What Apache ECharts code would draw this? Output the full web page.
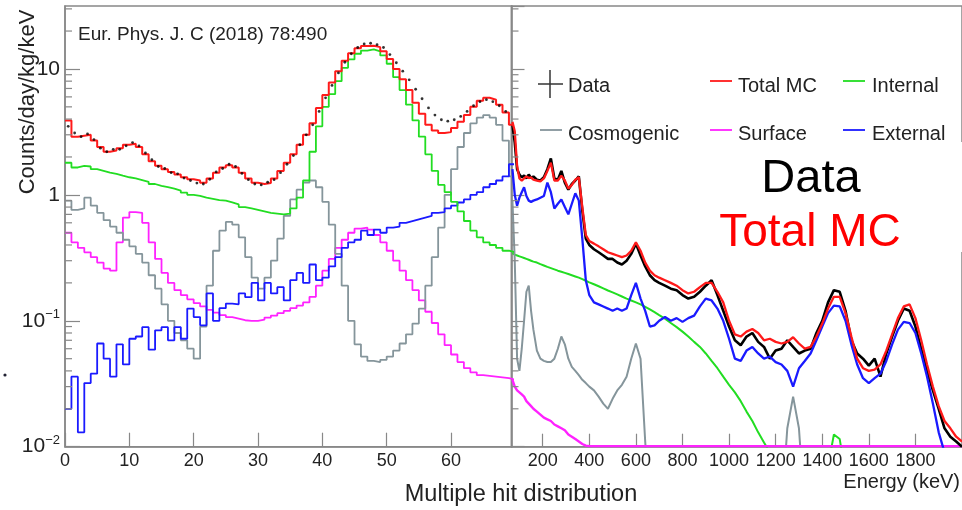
<!DOCTYPE html>
<html><head><meta charset="utf-8">
<script src="https://cdn.jsdelivr.net/npm/echarts@6/dist/echarts.min.js"></script>
<style>html,body{margin:0;padding:0;background:#fff}#c{width:962px;height:510px}</style>
</head><body><div id="c"></div>
<script>
// ---------- Left panel: multiple hit distribution (bins of width 1, 0..69) ----------
const hitTicks = [0, 10, 20, 30, 40, 50, 60];
const leftTotalMC = [3.9,2.9,2.95,3.0,2.7,2.4,2.2,2.25,2.35,2.5, 2.55,2.4,2.1,1.85,1.7,1.6,1.52,1.45,1.38,1.33, 1.3,1.25,1.35,1.5,1.65,1.72,1.65,1.5,1.35,1.25, 1.22,1.24,1.35,1.55,1.8,2.1,2.5,3.0,3.7,4.9, 6.2,7.8,9.6,11.6,13.3,14.6,15.2,15.3,14.9,13.8, 12.0,10.0,8.3,6.8,5.4,4.4,3.6,3.25,3.1,3.15, 3.4,3.8,4.3,5.0,5.6,5.9,5.7,5.2,4.5,3.6];
const leftData = [3.5,3.1,2.9,3.05,2.75,2.35,2.2,2.3,2.3,2.45, 2.6,2.45,2.15,1.9,1.68,1.62,1.5,1.47,1.36,1.3, 1.24,1.22,1.33,1.52,1.62,1.75,1.68,1.48,1.32,1.22, 1.2,1.26,1.32,1.5,1.75,2.05,2.5,3.0,3.6,4.6, 5.9,7.4,9.3,11.3,13.2,14.8,15.8,16.0,15.6,14.8, 13.0,11.2,9.6,8.2,6.9,5.8,4.9,4.3,3.95,3.85, 3.95,4.2,4.6,5.1,5.5,5.7,5.5,5.1,4.6,4.0];
const leftInternal = [1.8,1.65,1.7,1.68,1.6,1.55,1.5,1.47,1.42,1.38, 1.35,1.31,1.27,1.22,1.18,1.15,1.12,1.08,1.04,1.0, 0.98,0.95,0.93,0.91,0.9,0.87,0.84,0.8,0.78,0.76, 0.74,0.72,0.71,0.7,0.71,0.78,0.95,1.3,2.2,3.5, 5.0,6.3,8.0,10.2,11.9,13.2,14.0,14.3,13.8,12.8, 11.0,8.6,6.8,5.2,3.9,2.9,2.1,1.55,1.2,1.05, 0.88,0.74,0.62,0.52,0.46,0.42,0.4,0.38,0.36,0.35];
const leftCosmogenic = [0.9,0.76,0.78,0.95,0.82,0.72,0.63,0.56,0.5,0.44, 0.39,0.34,0.29,0.23,0.18,0.135,0.1,0.08,0.07,0.06, 0.05,0.09,0.19,0.36,0.52,0.61,0.58,0.46,0.32,0.22, 0.18,0.22,0.3,0.45,0.68,0.92,1.1,1.25,1.3,1.15, 0.88,0.58,0.34,0.19,0.1,0.065,0.052,0.048,0.047,0.049, 0.052,0.058,0.066,0.078,0.095,0.125,0.19,0.32,0.55,1.0, 1.6,2.4,3.1,3.7,4.1,4.3,4.1,3.6,2.7,1.4];
const leftSurface = [0.5,0.42,0.38,0.35,0.32,0.29,0.26,0.25,0.42,0.66, 0.73,0.72,0.6,0.42,0.31,0.24,0.2,0.175,0.16,0.148, 0.138,0.13,0.122,0.116,0.111,0.107,0.104,0.101,0.1,0.1, 0.102,0.106,0.11,0.115,0.12,0.126,0.132,0.14,0.155,0.19, 0.25,0.31,0.38,0.44,0.5,0.54,0.55,0.53,0.48,0.42, 0.36,0.3,0.25,0.21,0.175,0.145,0.118,0.096,0.078,0.064, 0.054,0.047,0.042,0.039,0.037,0.0365,0.036,0.0355,0.035,0.034];
const leftExternal = [0.02,0.036,0.013,0.032,0.038,0.066,0.05,0.036,0.065,0.045, 0.072,0.075,0.089,0.059,0.084,0.089,0.07,0.089,0.072,0.125, 0.107,0.092,0.165,0.1,0.126,0.137,0.135,0.165,0.154,0.2, 0.145,0.2,0.165,0.185,0.145,0.21,0.24,0.2,0.28,0.21, 0.22,0.27,0.32,0.38,0.42,0.44,0.52,0.48,0.53,0.5, 0.55,0.56,0.6,0.62,0.64,0.66,0.68,0.72,0.73,0.78, 0.82,0.87,0.92,1.0,1.05,1.15,1.22,1.3,1.4,1.75];

// ---------- Right panel: energy spectrum (keV) ----------
const energyTicks = [200, 400, 600, 800, 1000, 1200, 1400, 1600, 1800];
const energyKeV = [70,80,90,100,110,120,130,140,150,160,
  175,190,205,220,235,250,265,280,295,310,325,340,355,370,385,400,
  420,440,460,480,500,520,540,560,580,600,620,640,660,680,700,
  725,750,775,800,825,850,875,900,925,950,975,1000,
  1025,1050,1075,1100,1125,1150,1175,1200,1225,1250,1275,1300,
  1325,1350,1375,1400,1425,1450,1475,1500,1525,1550,1575,1600,
  1625,1650,1675,1700,1725,1750,1775,1800,1825,1850,1875,1900,
  1925,1950,1975,2000];
const rightTotalMC = [3.8,3.2,1.7,1.35,1.3,1.35,1.4,1.36,1.38,1.32,
  1.3,1.28,1.35,1.55,1.8,1.3,1.3,1.42,1.3,1.12,1.2,1.32,1.38,0.8,0.48,0.43,
  0.41,0.39,0.37,0.35,0.34,0.33,0.32,0.33,0.36,0.42,0.36,0.29,0.25,0.23,0.22,
  0.21,0.2,0.19,0.175,0.165,0.17,0.185,0.2,0.2,0.17,0.14,0.1,
  0.078,0.075,0.082,0.086,0.08,0.07,0.072,0.068,0.066,0.068,0.074,0.066,
  0.06,0.062,0.075,0.095,0.125,0.155,0.155,0.115,0.075,0.05,0.042,0.04,
  0.041,0.045,0.058,0.078,0.105,0.13,0.135,0.105,0.07,0.045,0.03,0.021,
  0.016,0.014,0.012,0.011];
const rightData = [3.6,2.6,1.6,1.45,1.38,1.42,1.35,1.45,1.36,1.4,
  1.32,1.3,1.38,1.6,1.95,1.35,1.32,1.55,1.25,1.1,1.22,1.3,1.4,0.75,0.45,0.4,
  0.37,0.35,0.33,0.31,0.31,0.29,0.28,0.3,0.34,0.41,0.33,0.27,0.23,0.21,0.2,
  0.19,0.18,0.175,0.16,0.15,0.155,0.17,0.19,0.21,0.16,0.12,0.09,
  0.07,0.064,0.075,0.08,0.068,0.062,0.05,0.058,0.06,0.07,0.062,0.055,
  0.058,0.06,0.08,0.1,0.14,0.175,0.17,0.12,0.07,0.055,0.05,0.044,
  0.05,0.036,0.055,0.075,0.1,0.125,0.12,0.09,0.06,0.04,0.028,0.02,
  0.014,0.012,0.011,0.01];
const rightExternal = [1.6,1.0,0.82,0.95,1.05,1.15,0.98,0.9,0.88,0.9,
  0.92,0.95,0.98,1.25,1.05,0.78,0.85,0.92,0.8,0.7,0.85,1.03,0.9,0.45,0.21,0.16,
  0.14,0.135,0.13,0.125,0.12,0.125,0.12,0.125,0.16,0.2,0.15,0.12,0.09,0.092,0.1,
  0.107,0.1,0.105,0.098,0.105,0.11,0.13,0.15,0.145,0.125,0.1,0.072,
  0.05,0.048,0.058,0.062,0.055,0.05,0.052,0.047,0.045,0.04,0.03,0.042,
  0.048,0.055,0.07,0.09,0.115,0.132,0.13,0.1,0.065,0.045,0.035,0.032,
  0.035,0.038,0.048,0.065,0.085,0.098,0.096,0.08,0.055,0.036,0.022,0.013,
  0.009,0.007,0.006,0.005];
const rightInternal = [0.345,0.335,0.33,0.325,0.32,0.315,0.31,0.305,0.3,0.295,
  0.29,0.282,0.275,0.268,0.262,0.256,0.25,0.245,0.24,0.235,0.23,0.225,0.22,0.214,0.208,0.202,
  0.195,0.188,0.181,0.174,0.168,0.162,0.156,0.15,0.145,0.14,0.135,0.129,0.123,0.117,0.111,
  0.104,0.096,0.089,0.082,0.075,0.068,0.062,0.055,0.048,0.042,0.036,0.031,
  0.027,0.023,0.019,0.016,0.013,0.0108,0.009,0.0075,0.0065,0.006,0.006,0.006,
  0.006,0.006,0.006,0.006,0.007,0.0125,0.0115,0.006,0.005,0.005,0.005,0.005,
  0.005,0.005,0.005,0.005,0.005,0.005,0.005,0.005,0.005,0.005,0.005,0.005,
  0.005,0.005,0.005,0.005];
const rightCosmogenic = [0.9,0.3,0.05,0.04,0.06,0.1,0.17,0.19,0.12,0.085,
  0.058,0.05,0.048,0.047,0.047,0.05,0.06,0.075,0.065,0.05,0.043,0.04,0.037,0.034,0.032,0.03,
  0.028,0.025,0.022,0.02,0.024,0.028,0.031,0.036,0.05,0.066,0.05,0.011,0.003,0.003,0.003,
  0.003,0.003,0.003,0.003,0.003,0.003,0.003,0.003,0.003,0.003,0.003,0.003,
  0.003,0.003,0.003,0.003,0.003,0.003,0.003,0.003,0.003,0.014,0.025,0.014,
  0.003,0.003,0.003,0.003,0.003,0.003,0.003,0.003,0.003,0.003,0.003,0.003,
  0.003,0.003,0.003,0.003,0.003,0.003,0.003,0.003,0.003,0.003,0.003,0.003,
  0.003,0.003,0.003,0.003];
const rightSurface = [0.034,0.03,0.028,0.027,0.026,0.025,0.023,0.022,0.021,0.02,
  0.019,0.018,0.017,0.0165,0.016,0.015,0.0145,0.014,0.0135,0.0125,0.012,0.0115,0.011,0.0105,0.0102,0.0101,
  0.0101,0.0101,0.0101,0.0101,0.0101,0.0101,0.0101,0.0101,0.0101,0.0101,0.0101,0.0101,0.0101,0.0101,0.0101,
  0.0101,0.0101,0.0101,0.0101,0.0101,0.0101,0.0101,0.0101,0.0101,0.0101,0.0101,0.0101,
  0.0101,0.0101,0.0101,0.0101,0.0101,0.0101,0.0101,0.0101,0.0101,0.0101,0.0101,0.0101,
  0.0101,0.0101,0.0101,0.0101,0.0101,0.0101,0.0101,0.0101,0.0101,0.0101,0.0101,0.0101,
  0.0101,0.0101,0.0101,0.0101,0.0101,0.0101,0.0101,0.0101,0.0101,0.0101,0.0101,0.0101,
  0.0101,0.0101,0.0101,0.0101];

const yMin = 0.01, yMax = 31.62;
const FONT = '"Liberation Sans", Arial, Helvetica, sans-serif';
const C = {data:'#000000', total:'#ff1a1a', internal:'#22dd22', cosmo:'#85959b', surface:'#ff22ff', external:'#1a1aff'};

function histo(vals) { // step histogram: bin i spans [i, i+1]
  const d = vals.map((v, i) => [i, v]);
  d.push([vals.length, vals[vals.length - 1]]);
  return d;
}
function centers(vals) { return vals.map((v, i) => [i + 0.5, v]); }
function spec(vals) { return energyKeV.map((e, i) => [e, vals[i]]); }

const chart = echarts.init(document.getElementById('c'), null, {renderer: 'canvas'});
const G0 = {left: 65, top: 6, width: 446.5, height: 440.7};
const G1 = {left: 511.5, top: 6, width: 452, height: 440.7};

function hLine(name, data, color, xi, z, step, w) {
  return {name, type: 'line', xAxisIndex: xi, yAxisIndex: xi, data, step: step ? 'end' : false,
    showSymbol: false, symbol: 'none', clip: true, z,
    lineStyle: {color, width: w || 1.8}, emphasis: {disabled: true}, silent: true};
}

const yLabelFmt = function (v) {
  const e = Math.log10(v), r = Math.round(e);
  if (Math.abs(e - r) > 1e-6) return '';
  if (r >= 0) return '{b|' + Math.pow(10, r) + '}';
  return '{b|10}{s|\u2212' + (-r) + '}';
};
const plainFmt = function (v) { return String(v); };

chart.setOption({
  animation: false,
  backgroundColor: '#ffffff',
  grid: [
    Object.assign({show: true, borderColor: '#888', borderWidth: 1.5, backgroundColor: 'transparent'}, G0),
    Object.assign({show: true, borderColor: '#888', borderWidth: 1.5, backgroundColor: 'transparent'}, G1)
  ],
  xAxis: [
    {gridIndex: 0, type: 'value', min: 0, max: 69.4,
      axisLine: {lineStyle: {color: '#888', width: 1.5}},
      axisTick: {inside: true, length: 14, customValues: hitTicks, lineStyle: {color: '#888', width: 1.2}},
      axisLabel: {customValues: hitTicks, formatter: plainFmt, fontSize: 18, color: '#222', margin: 5, fontFamily: FONT},
      splitLine: {show: false}},
    {gridIndex: 1, type: 'value', min: 66, max: 2000,
      axisLine: {lineStyle: {color: '#888', width: 1.5}},
      axisTick: {inside: true, length: 13, customValues: energyTicks, lineStyle: {color: '#888', width: 1.2}},
      axisLabel: {customValues: energyTicks, formatter: plainFmt, fontSize: 18, color: '#222', margin: 5, fontFamily: FONT},
      splitLine: {show: false}}
  ],
  yAxis: [
    {gridIndex: 0, type: 'log', logBase: 10, min: yMin, max: yMax,
      axisLine: {show: true, lineStyle: {color: '#888', width: 1.5}},
      axisTick: {inside: true, length: 15, lineStyle: {color: '#888', width: 1.2}},
      axisLabel: {formatter: yLabelFmt, margin: 5, color: '#222', showMinLabel: true, showMaxLabel: false,
        rich: {b: {fontSize: 21, lineHeight: 26, fontFamily: FONT, color: '#222'},
               s: {fontSize: 13, lineHeight: 12, verticalAlign: 'top', fontFamily: FONT, color: '#222'}}},
      splitLine: {show: false}},
    {gridIndex: 1, type: 'log', logBase: 10, min: yMin, max: yMax,
      axisLine: {show: true, lineStyle: {color: '#888', width: 1.5}},
      axisTick: {inside: true, length: 13, lineStyle: {color: '#888', width: 1.2}},
      axisLabel: {show: false},
      splitLine: {show: false}}
  ],
  series: [
    hLine('Surface', histo(leftSurface), C.surface, 0, 2, true),
    hLine('Cosmogenic', histo(leftCosmogenic), C.cosmo, 0, 2, true),
    hLine('External', histo(leftExternal), C.external, 0, 3, true),
    hLine('Internal', histo(leftInternal), C.internal, 0, 3, true),
    hLine('Total MC', histo(leftTotalMC), C.total, 0, 4, true, 2),
    {name: 'Data', type: 'scatter', xAxisIndex: 0, yAxisIndex: 0, data: centers(leftData), z: 5,
      symbol: 'circle', symbolSize: 2.8, itemStyle: {color: C.data}, silent: true, clip: true},
    hLine('Internal R', spec(rightInternal), C.internal, 1, 2, false, 2),
    hLine('Cosmogenic R', spec(rightCosmogenic), C.cosmo, 1, 2, false, 2),
    hLine('Surface R', spec(rightSurface), C.surface, 1, 2, false, 2.4),
    hLine('Data R', spec(rightData), C.data, 1, 3, false, 2.6),
    hLine('External R', spec(rightExternal), C.external, 1, 4, false, 2.3),
    hLine('Total MC R', spec(rightTotalMC), C.total, 1, 5, false, 2.3)
  ]
});

// ---- decorations: minor log ticks, titles, legend, annotations ----
const g = [];
for (let d = -2; d <= 1; d++) {
  for (let m = 2; m <= 9; m++) {
    const v = m * Math.pow(10, d);
    if (v >= yMax) continue;
    const y = chart.convertToPixel({yAxisIndex: 0}, v);
    const x0 = chart.convertToPixel({xAxisIndex: 0}, 0);
    const x1 = chart.convertToPixel({xAxisIndex: 1}, 66);
    g.push({type: 'line', shape: {x1: x0, y1: y, x2: x0 + 7, y2: y}, style: {stroke: '#888', lineWidth: 1.2}, z: 50, silent: true});
    g.push({type: 'line', shape: {x1: x1, y1: y, x2: x1 + 7, y2: y}, style: {stroke: '#888', lineWidth: 1.2}, z: 50, silent: true});
  }
}
function txt(text, x, y, size, color, align, extra) {
  return Object.assign({type: 'text', x, y, z: 100, silent: true,
    style: {text, fill: color, fontSize: size, fontFamily: FONT, textAlign: align || 'left', textVerticalAlign: 'middle'}}, extra || {});
}
function seg(x1, y1, x2, y2, color, w) {
  return {type: 'line', z: 100, silent: true, shape: {x1, y1, x2, y2}, style: {stroke: color, lineWidth: w || 1.8}};
}
g.push(txt('Eur. Phys. J. C (2018) 78:490', 78, 35, 19, '#222'));
g.push(txt('Counts/day/kg/keV', 28, 102, 22, '#222', 'center', {rotation: Math.PI / 2}));
g.push(txt('Multiple hit distribution', 521, 495, 23.5, '#222', 'center'));
g.push(txt('Energy (keV)', 960, 482, 20, '#222', 'right'));
// legend
g.push(seg(538, 84, 563, 84, '#333', 1.5));
g.push(seg(550, 70, 550, 98, '#333', 1.5));
g.push(txt('Data', 568, 86, 20, '#222'));
g.push(seg(710, 81, 732, 81, C.total));
g.push(txt('Total MC', 738, 86, 20, '#222'));
g.push(seg(843, 81, 865, 81, C.internal));
g.push(txt('Internal', 872, 86, 20, '#222'));
g.push(seg(540, 130, 562, 130, C.cosmo));
g.push(txt('Cosmogenic', 568, 134, 20, '#222'));
g.push(seg(710, 130, 732, 130, C.surface));
g.push(txt('Surface', 738, 134, 20, '#222'));
g.push(seg(843, 130, 865, 130, C.external));
g.push(txt('External', 872, 134, 20, '#222'));
g.push({type: 'rect', z: 101, silent: true, shape: {x: 725, y: 142, width: 237, height: 110}, style: {fill: '#ffffff'}});
g.push(Object.assign(txt('Data', 811, 179, 47, '#000', 'center'), {z: 102}));
g.push(Object.assign(txt('Total MC', 810, 233, 46, '#ff0000', 'center'), {z: 102}));
g.push({type: 'circle', z: 100, silent: true, shape: {cx: 5, cy: 375, r: 1.6}, style: {fill: '#223'}});
chart.setOption({graphic: g});
</script>
</body></html>
